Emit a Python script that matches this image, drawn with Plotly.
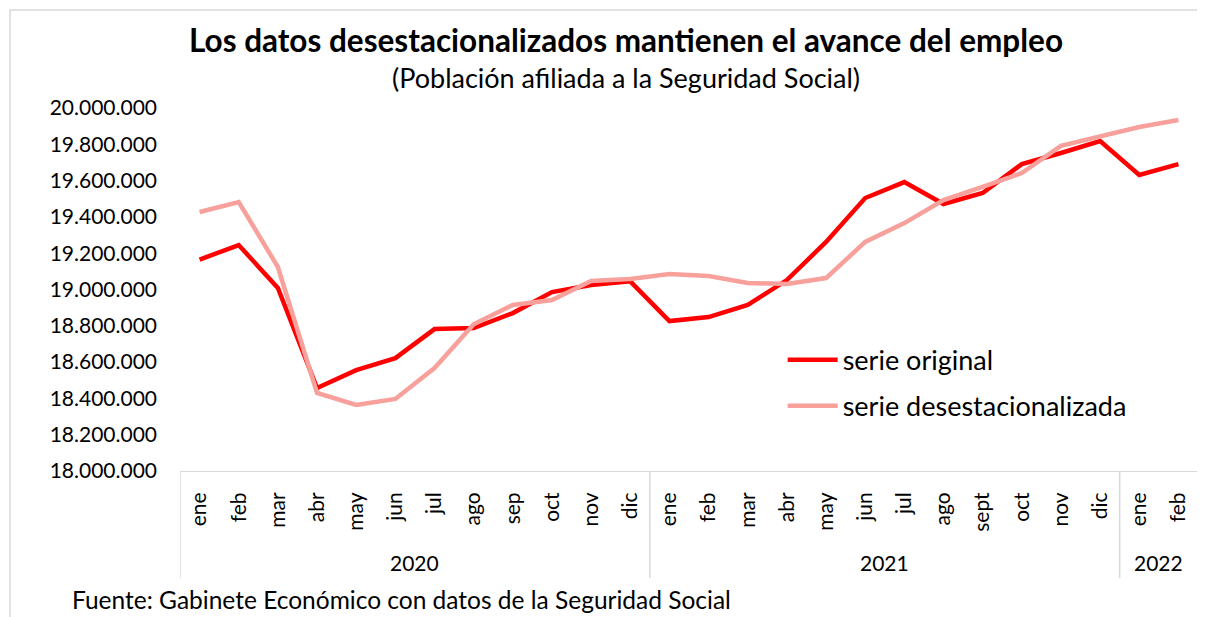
import plotly.graph_objects as go

# Datos
meses = ["ene", "feb", "mar", "abr", "may", "jun", "jul", "ago", "sep", "oct", "nov", "dic",
         "ene", "feb", "mar", "abr", "may", "jun", "jul", "ago", "sept", "oct", "nov", "dic",
         "ene", "feb"]
anios = ["2020", "2021", "2022"]
meses_por_anio = [12, 12, 2]

serie_original = [19165000, 19245000, 19008000, 18457000, 18556000, 18622000, 18782000, 18788000,
                  18870000, 18986000, 19025000, 19045000, 18826000, 18848000, 18915000, 19052000,
                  19262000, 19504000, 19592000, 19471000, 19532000, 19691000, 19752000, 19818000,
                  19631000, 19691000]
serie_desest = [19427000, 19482000, 19124000, 18430000, 18364000, 18397000, 18567000, 18808000,
                18915000, 18942000, 19047000, 19058000, 19085000, 19074000, 19036000, 19030000,
                19063000, 19262000, 19366000, 19493000, 19565000, 19642000, 19791000, 19840000,
                19895000, 19934000]

idx = list(range(len(meses)))
font_family = "Lato"

fig = go.Figure()
fig.add_trace(go.Scatter(x=idx, y=serie_original, mode="lines", name="serie original",
                         line=dict(color="#FF0000", width=4.5), legendgroup="a"))
fig.add_trace(go.Scatter(x=idx, y=serie_desest, mode="lines", name="serie desestacionalizada",
                         line=dict(color="#F8A09B", width=4.5), legendgroup="b"))

# la página añade ~8px de margen, por eso la figura es algo más pequeña
fig.update_layout(
    width=1197, height=609,
    margin=dict(l=172, r=7, t=100, b=146, autoexpand=False),
    paper_bgcolor="white", plot_bgcolor="white",
    font=dict(family=font_family, color="black"),
    separators=",.",
    showlegend=True,
    legend=dict(x=0.592, y=0.242, xanchor="left", yanchor="middle", font=dict(size=27),
                tracegroupgap=8, bgcolor="rgba(0,0,0,0)", itemwidth=50),
)

fig.update_xaxes(
    range=[-0.5, len(meses) - 0.5], automargin=False,
    tickmode="array", tickvals=idx, ticktext=meses, tickangle=-90,
    tickfont=dict(size=21), ticks="", showgrid=False, ticklabelstandoff=12,
    showline=True, linecolor="#D9D9D9", linewidth=1, zeroline=False,
)
fig.update_yaxes(
    range=[18000000, 20000000], dtick=200000, tickformat=",d", automargin=False,
    tickfont=dict(size=21), showgrid=False, zeroline=False, showline=False, ticks="",
    ticklabelstandoff=22,
)

# titulos
fig.add_annotation(text="<b>Los datos desestacionalizados mantienen el avance del empleo</b>",
                   xref="paper", yref="paper", x=0.438, y=1.187, xanchor="center", yanchor="middle",
                   showarrow=False, font=dict(size=31.5))
fig.add_annotation(text="(Población afiliada a la Seguridad Social)",
                   xref="paper", yref="paper", x=0.438, y=1.085, xanchor="center", yanchor="middle",
                   showarrow=False, font=dict(size=27))
fig.add_annotation(text="Fuente: Gabinete Económico con datos de la Seguridad Social",
                   xref="paper", yref="paper", x=-0.108, y=-0.355, xanchor="left", yanchor="middle",
                   showarrow=False, font=dict(size=24.5))

# etiquetas de año y separadores
inicio = 0
for anio, n in zip(anios, meses_por_anio):
    fig.add_annotation(text=anio, xref="x", yref="paper", x=inicio + (n - 1) / 2, y=-0.251,
                       xanchor="center", yanchor="middle", showarrow=False, font=dict(size=21))
    inicio += n
sep_pos = [-0.5]
acum = 0
for n in meses_por_anio:
    acum += n
    sep_pos.append(acum - 0.5)
for p in sep_pos:
    fig.add_shape(type="line", xref="x", yref="paper", x0=p, x1=p, y0=0, y1=-0.295,
                  line=dict(color="#D9D9D9", width=1.5))

# borde del gráfico
fig.add_shape(type="rect", xref="paper", yref="paper", x0=-0.167, x1=1.05, y0=-0.5, y1=1.27,
              line=dict(color="#D9D9D9", width=1.5), layer="below")

fig.write_html("out.html")
